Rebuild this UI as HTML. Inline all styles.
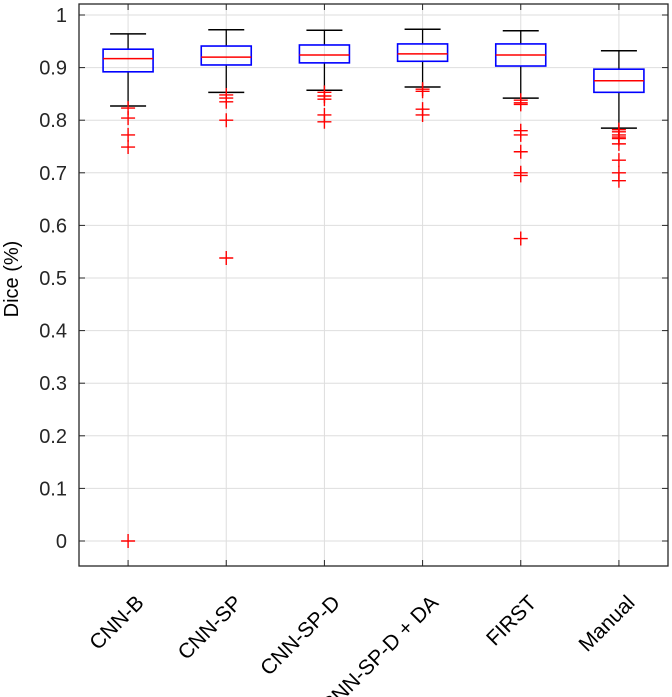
<!DOCTYPE html>
<html><head><meta charset="utf-8"><style>
body{margin:0;background:#fff}
svg{display:block;font-family:"Liberation Sans",Arial,sans-serif}
</style></head><body>
<svg id="chart" width="672" height="697" viewBox="0 0 672 697"></svg>
<script>
const categories=["CNN-B","CNN-SP","CNN-SP-D","CNN-SP-D + DA","FIRST","Manual"];
const whiskerHigh=[0.964,0.972,0.971,0.973,0.970,0.932];
const q3=[0.935,0.941,0.943,0.945,0.945,0.897];
const medians=[0.917,0.920,0.924,0.926,0.924,0.875];
const q1=[0.892,0.905,0.909,0.912,0.903,0.853];
const whiskerLow=[0.827,0.853,0.857,0.863,0.842,0.785];
const outliers=[
 [0.823,0.804,0.772,0.749,0.0],
 [0.848,0.842,0.835,0.800,0.538],
 [0.853,0.846,0.840,0.810,0.797],
 [0.859,0.855,0.821,0.810],
 [0.838,0.833,0.830,0.780,0.772,0.740,0.700,0.695,0.575],
 [0.782,0.778,0.772,0.768,0.765,0.755,0.724,0.700,0.685]
];
const yTicks=[0,0.1,0.2,0.3,0.4,0.5,0.6,0.7,0.8,0.9,1];
const yTickLabels=["0","0.1","0.2","0.3","0.4","0.5","0.6","0.7","0.8","0.9","1"];

const svg=document.getElementById('chart');
const NS="http://www.w3.org/2000/svg";
const L=79,R=668,T=4,B=566;
const y=v=>541-v*526;
const x=i=>L+(i+0.5)*(R-L)/categories.length;
function mk(tag,attrs,parent){const e=document.createElementNS(NS,tag);for(const k in attrs)e.setAttribute(k,attrs[k]);(parent||svg).appendChild(e);return e;}

yTicks.forEach((v,i)=>{
 const g=mk('line',{x1:L,x2:R,y1:y(v),y2:y(v),stroke:'#dedede','stroke-width':1});
 
 
 mk('line',{x1:L,x2:L+6,y1:y(v),y2:y(v),stroke:'#262626'});
 mk('line',{x1:R,x2:R-6,y1:y(v),y2:y(v),stroke:'#262626'});
 const t=mk('text',{x:L-12,y:y(v)+7,'text-anchor':'end','font-size':20,fill:'#262626'});
 t.textContent=yTickLabels[i];
 
 
});
categories.forEach((c,i)=>{
 const g=mk('line',{x1:x(i),x2:x(i),y1:T,y2:B,stroke:'#dedede'});
 
 
 mk('line',{x1:x(i),x2:x(i),y1:B,y2:B-6,stroke:'#262626'});
 mk('line',{x1:x(i),x2:x(i),y1:T,y2:T+6,stroke:'#262626'});
 const t=mk('text',{x:0,y:0,'text-anchor':'end','font-size':21,fill:'#000',transform:`translate(${x(i)+17},${B+38}) rotate(-45)`});
 t.textContent=c;
 
 
});
categories.forEach((c,i)=>{
 const g=mk('g',{});
 
 
 const cx=x(i),hw=25,cw=18;
 mk('line',{x1:cx,x2:cx,y1:y(whiskerHigh[i]),y2:y(q3[i]),stroke:'#000','stroke-width':1.3},g);
 mk('line',{x1:cx,x2:cx,y1:y(q1[i]),y2:y(whiskerLow[i]),stroke:'#000','stroke-width':1.3},g);
 mk('line',{x1:cx-cw,x2:cx+cw,y1:y(whiskerHigh[i]),y2:y(whiskerHigh[i]),stroke:'#000','stroke-width':1.5},g);
 mk('line',{x1:cx-cw,x2:cx+cw,y1:y(whiskerLow[i]),y2:y(whiskerLow[i]),stroke:'#000','stroke-width':1.5},g);
 mk('rect',{x:cx-hw,y:y(q3[i]),width:2*hw,height:y(q1[i])-y(q3[i]),fill:'none',stroke:'#0000ff','stroke-width':1.6},g);
 mk('line',{x1:cx-hw,x2:cx+hw,y1:y(medians[i]),y2:y(medians[i]),stroke:'#ff0000','stroke-width':1.5},g);
 outliers[i].forEach(v=>{
  const p=mk('path',{d:`M${cx-7},${y(v)}h14M${cx},${y(v)-7}v14`,stroke:'#ff0000','stroke-width':1.4},g);
  
  
 });
});
const fr=mk('rect',{x:L,y:T,width:R-L,height:B-T,fill:'none',stroke:'#262626','stroke-width':1.3});


const yl=mk('text',{x:0,y:0,'text-anchor':'middle','font-size':20,fill:'#000',transform:'translate(18,279) rotate(-90)'});
yl.textContent='Dice (%)';


</script>
</body></html>
